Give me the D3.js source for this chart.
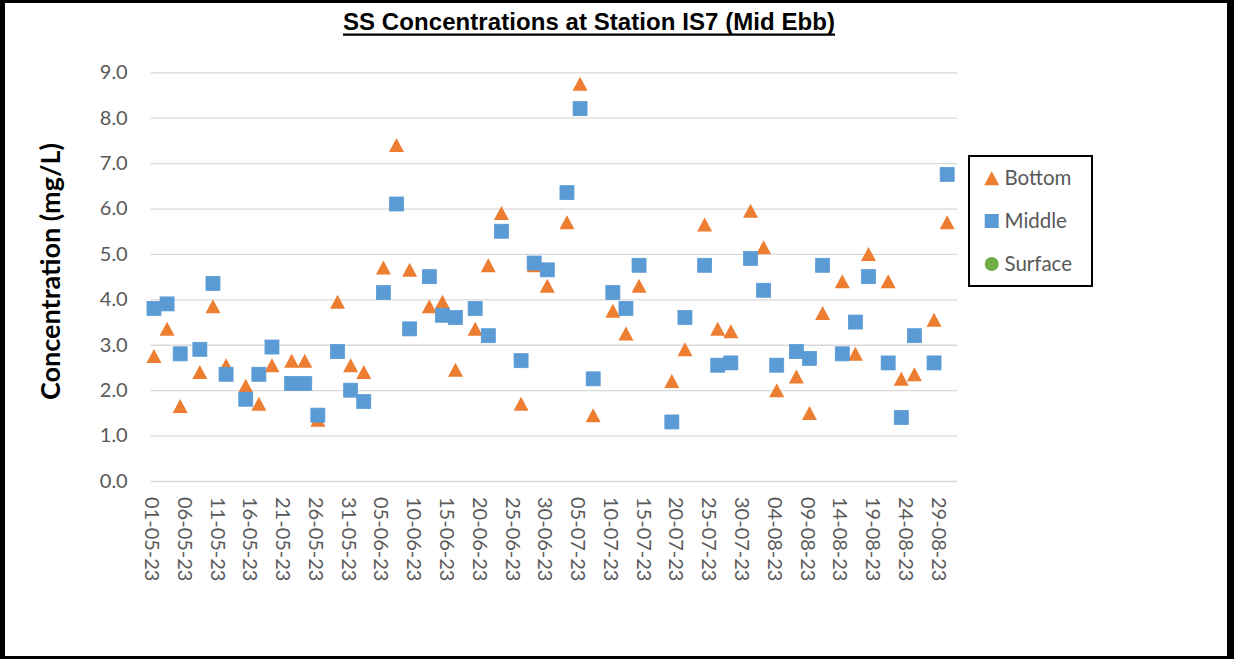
<!DOCTYPE html>
<html><head><meta charset="utf-8">
<script src="https://cdn.jsdelivr.net/npm/d3@7"></script>
<style>body{margin:0;background:#fff}svg{display:block}</style>
</head><body>
<svg id="c" width="1234" height="659"></svg>
<script>
const dates = ["01-05-23","03-05-23","05-05-23","08-05-23","10-05-23","12-05-23","15-05-23","17-05-23","19-05-23","22-05-23","24-05-23","26-05-23","29-05-23","31-05-23","02-06-23","05-06-23","07-06-23","09-06-23","12-06-23","14-06-23","16-06-23","19-06-23","21-06-23","23-06-23","26-06-23","28-06-23","30-06-23","03-07-23","05-07-23","07-07-23","10-07-23","12-07-23","14-07-23","19-07-23","21-07-23","24-07-23","26-07-23","28-07-23","31-07-23","02-08-23","04-08-23","07-08-23","09-08-23","11-08-23","14-08-23","16-08-23","18-08-23","21-08-23","23-08-23","25-08-23","28-08-23","30-08-23"];
const bottomValues = [2.75,3.35,1.65,2.4,3.85,2.55,2.1,1.7,2.55,2.65,2.65,1.35,3.95,2.55,2.4,4.7,7.4,4.65,3.85,3.95,2.45,3.35,4.75,5.9,1.7,4.75,4.3,5.7,8.75,1.45,3.75,3.25,4.3,2.2,2.9,5.65,3.35,3.3,5.95,5.15,2.0,2.3,1.5,3.7,4.4,2.8,5.0,4.4,2.25,2.35,3.55,5.7];
const middleValues = [3.8,3.9,2.8,2.9,4.35,2.35,1.8,2.35,2.95,2.15,2.15,1.45,2.85,2.0,1.75,4.15,6.1,3.35,4.5,3.65,3.6,3.8,3.2,5.5,2.65,4.8,4.65,6.35,8.2,2.25,4.15,3.8,4.75,1.3,3.6,4.75,2.55,2.6,4.9,4.2,2.55,2.85,2.7,4.75,2.8,3.5,4.5,2.6,1.4,3.2,2.6,6.75];
const surfaceValues = [];
const yTicks = [0,1,2,3,4,5,6,7,8,9];
const xTickLabels = ["01-05-23","06-05-23","11-05-23","16-05-23","21-05-23","26-05-23","31-05-23","05-06-23","10-06-23","15-06-23","20-06-23","25-06-23","30-06-23","05-07-23","10-07-23","15-07-23","20-07-23","25-07-23","30-07-23","04-08-23","09-08-23","14-08-23","19-08-23","24-08-23","29-08-23"];
const seriesNames = ["Bottom","Middle","Surface"];
const seriesColors = ["#ED7D31","#5B9BD5","#70AD47"];
const titleText = "SS Concentrations at Station IS7 (Mid Ebb)";
const yTitle = "Concentration (mg/L)";

const parse = d3.utcParse("%d-%m-%y");
const mid = d => d3.utcHour.offset(d, 12);
const svg = d3.select("#c");

// outer frame
svg.append("rect").attr("width",1234).attr("height",659).attr("fill","#000");
svg.append("rect").attr("x",5).attr("y",3).attr("width",1222).attr("height",653).attr("fill","#fff");

const L = 150.7, R = 957, T = 72.3, B = 481;
const x = d3.scaleUtc().domain([Date.UTC(2023,4,1), Date.UTC(2023,8,1)]).range([L, R]);
const y = d3.scaleLinear().domain([0, 9]).range([B, T]);

// gridlines
svg.append("g").attr("transform",`translate(${L},0)`)
  .call(d3.axisLeft(y).tickValues(yTicks).tickSize(-(R-L)).tickFormat(""))
  .call(g => g.select(".domain").remove())
  .call(g => g.selectAll("line").attr("stroke","#D9D9D9").attr("stroke-width",1.3));

// y labels
svg.append("g").attr("transform",`translate(${L},0)`)
  .call(d3.axisLeft(y).tickValues(yTicks).tickSize(0).tickPadding(23).tickFormat(d3.format(".1f")))
  .call(g => g.select(".domain").remove())
  .call(g => g.selectAll("text").attr("fill","#595959").style("font-family","Lato").style("font-size","20px"));

// x labels
svg.append("g").attr("transform",`translate(0,${B})`)
  .call(d3.axisBottom(x).tickValues(xTickLabels.map(s => mid(parse(s)))).tickSize(0).tickFormat((d,i) => xTickLabels[i]))
  .call(g => g.select(".domain").remove())
  .call(g => g.selectAll("text")
     .attr("transform","rotate(90)").attr("x",16).attr("y",2.5).attr("dy","0.35em")
     .style("text-anchor","start").attr("fill","#595959")
     .style("font-family","Lato").style("font-size","20px"));

// data
const bottomData = dates.map((d,i) => ({date: mid(parse(d)), v: bottomValues[i]}));
const middleData = dates.map((d,i) => ({date: mid(parse(d)), v: middleValues[i]}));
const surfaceData = surfaceValues.map((v,i) => ({date: mid(parse(dates[i])), v}));

const triPath = "M0,-7L7.5,7L-7.5,7Z";
svg.append("g").selectAll("path").data(bottomData).join("path")
  .attr("d", triPath)
  .attr("transform", d => `translate(${x(d.date)},${y(d.v)})`)
  .attr("fill", seriesColors[0]);

svg.append("g").selectAll("rect").data(middleData).join("rect")
  .attr("x", d => x(d.date) - 7).attr("y", d => y(d.v) - 7)
  .attr("width", 14).attr("height", 14)
  .attr("fill", seriesColors[1]).attr("stroke", seriesColors[1]).attr("stroke-width", 0.8);

svg.append("g").selectAll("circle").data(surfaceData).join("circle")
  .attr("cx", d => x(d.date)).attr("cy", d => y(d.v)).attr("r", 7)
  .attr("fill", seriesColors[2]);

// title
svg.append("text").attr("x",589).attr("y",29.5).attr("text-anchor","middle")
  .style("font-family","'Liberation Sans', Arial, sans-serif").style("font-weight","bold").style("font-size","24px")
  .attr("textLength",492).attr("lengthAdjust","spacing")
  .attr("fill","#000").text(titleText);
svg.append("line").attr("x1",589-246).attr("x2",589+246).attr("y1",34.6).attr("y2",34.6)
  .attr("stroke","#000").attr("stroke-width",2.2);

// y title
svg.append("text").attr("transform","translate(60,271.5) rotate(-90)").attr("text-anchor","middle")
  .style("font-family","Lato").style("font-weight","bold").style("font-size","26.5px")
  .attr("textLength",257).attr("lengthAdjust","spacingAndGlyphs")
  .attr("fill","#000").text(yTitle);

// legend
const lg = svg.append("g");
lg.append("rect").attr("x",969).attr("y",156).attr("width",123).attr("height",130)
  .attr("fill","#fff").attr("stroke","#000").attr("stroke-width",2);
const rowY = [178.3, 221, 264];
seriesNames.forEach((name,i) => {
  const cx = 991.7, cy = rowY[i];
  if (i === 0) lg.append("path").attr("d",triPath).attr("transform",`translate(${cx},${cy})`).attr("fill",seriesColors[0]);
  else if (i === 1) lg.append("rect").attr("x",cx-7).attr("y",cy-7).attr("width",14).attr("height",14).attr("fill",seriesColors[1]);
  else lg.append("circle").attr("cx",cx).attr("cy",cy).attr("r",7).attr("fill",seriesColors[2]);
  lg.append("text").attr("x",1004.5).attr("y",cy).attr("dy","0.35em")
    .style("font-family","Lato").style("font-size","20.5px").attr("fill","#595959").text(name);
});
</script>
</body></html>
